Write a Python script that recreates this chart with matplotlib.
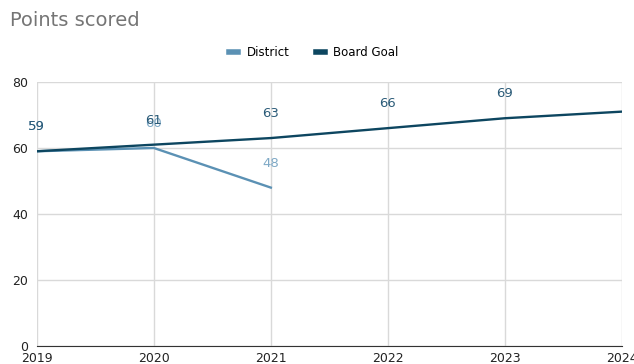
import matplotlib.pyplot as plt

years = [2019, 2020, 2021, 2022, 2023, 2024]
board_goal = [59, 61, 63, 66, 69, 71]
district_years = [2019, 2020, 2021]
district = [59, 60, 48]

c_district = '#5b91b4'
c_goal = '#0d4660'

fig = plt.figure(figsize=(6.34, 3.64), dpi=100)
ax = fig.add_axes([0.058, 0.049, 0.923, 0.726])

ax.plot(district_years, district, color=c_district, lw=1.7, label='District')
ax.plot(years, board_goal, color=c_goal, lw=1.7, label='Board Goal')

# data labels (district first so goal labels sit on top)
for x, v in zip(district_years, district):
    ax.annotate(str(v), (x, v), xytext=(0, 13), textcoords='offset points',
                ha='center', va='bottom', color='#7fa9c6', fontsize=9.5)
for x, v in zip(years[:-1], board_goal[:-1]):
    ax.annotate(str(v), (x, v), xytext=(0, 13), textcoords='offset points',
                ha='center', va='bottom', color='#2b5b78', fontsize=9.5)

ax.set_xlim(2019, 2024)
ax.set_ylim(0, 80)
ax.set_yticks([0, 20, 40, 60, 80])
ax.set_xticks(years)
ax.grid(True, color='#d9d9d9', lw=1)
ax.set_axisbelow(True)
for s in ['top', 'right', 'left']:
    ax.spines[s].set_visible(False)
ax.spines['bottom'].set_color('#333333')
ax.tick_params(length=0, labelsize=9, colors='#222222')
ax.tick_params(axis='x', pad=4)
ax.tick_params(axis='y', pad=6)

fig.text(0.016, 0.945, 'Points scored', fontsize=14, color='#757575', ha='left', va='center')
leg = fig.legend(loc='center', bbox_to_anchor=(0.495, 0.855), ncol=2, frameon=False,
                 fontsize=8.5, handlelength=0.8, handletextpad=0.7, columnspacing=2.2)
for h in leg.get_lines():
    h.set_linewidth(4)

fig.savefig('out.png', dpi=100)
